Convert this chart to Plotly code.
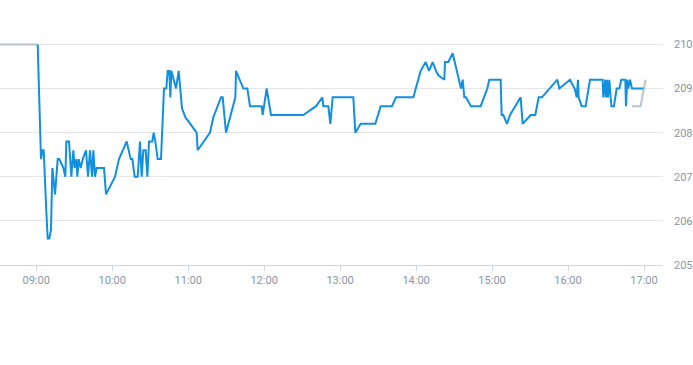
import plotly.graph_objects as go

DAY = "2024-01-02 "

# Pre-session (grey) segment
pre_times = ["08:30:00", "09:01:10"]
pre_prices = [210.0, 210.0]

# Main session (blue)
main_times = [
    "09:01:10", "09:03:47", "09:04:50", "09:05:54", "09:08:00", "09:09:04", "09:10:22", "09:11:41",
    "09:12:44", "09:14:51", "09:16:57", "09:18:16", "09:21:26", "09:23:00", "09:23:48", "09:25:54",
    "09:27:44", "09:29:19", "09:30:23", "09:31:41", "09:32:29", "09:33:32", "09:35:07", "09:36:42",
    "09:39:20", "09:40:54", "09:42:29", "09:44:04", "09:45:07", "09:46:26", "09:47:45", "09:53:32",
    "09:55:07", "10:02:14", "10:05:23", "10:11:26", "10:14:36", "10:15:55", "10:17:46", "10:20:08",
    "10:21:58", "10:23:17", "10:24:36", "10:26:27", "10:27:46", "10:29:05", "10:31:43", "10:32:46",
    "10:34:05", "10:35:56", "10:38:33", "10:40:55", "10:42:46", "10:43:49", "10:45:08", "10:45:55",
    "10:46:43", "10:50:24", "10:52:31", "10:55:08", "10:57:46", "11:06:43", "11:07:31", "11:17:15",
    "11:19:53", "11:25:56", "11:27:15", "11:29:53", "11:37:16", "11:37:48", "11:43:34", "11:46:44",
    "11:48:50", "11:58:03", "11:58:50", "12:02:00", "12:05:25", "12:30:57", "12:40:58", "12:45:58",
    "12:46:45", "12:50:42", "12:52:17", "12:54:07", "13:10:26", "13:12:01", "13:16:14", "13:27:49",
    "13:32:02", "13:40:59", "13:44:08", "13:57:50", "14:03:37", "14:07:34", "14:10:12", "14:13:06",
    "14:15:43", "14:17:34", "14:22:18", "14:22:50", "14:25:28", "14:28:53", "14:35:28", "14:36:47",
    "14:38:05", "14:39:24", "14:43:21", "14:50:59", "14:56:15", "14:57:50", "15:06:47", "15:07:34",
    "15:08:53", "15:11:47", "15:14:10", "15:22:35", "15:24:10", "15:30:29", "15:34:10", "15:36:48",
    "15:39:26", "15:51:32", "15:53:07", "16:01:32", "16:05:14", "16:06:49", "16:07:52", "16:08:23",
    "16:10:45", "16:13:55", "16:17:20", "16:27:20", "16:27:52", "16:29:26", "16:29:58", "16:30:46",
    "16:31:33", "16:32:36", "16:34:11", "16:36:17", "16:38:24", "16:40:30", "16:42:05", "16:45:14",
    "16:45:46", "16:46:49", "16:47:37", "16:48:56", "16:50:31", "16:59:28",
]
main_prices = [
    210.0, 207.4, 207.6, 207.6, 206.2, 205.6, 205.6, 205.8,
    207.2, 206.6, 207.4, 207.4, 207.2, 207.0, 207.8, 207.8,
    207.0, 207.6, 207.2, 207.4, 207.0, 207.4, 207.2, 207.4,
    207.6, 207.0, 207.6, 207.0, 207.6, 207.0, 207.2, 207.2,
    206.6, 207.0, 207.4, 207.8, 207.4, 207.4, 207.0, 207.0,
    207.8, 207.0, 207.6, 207.6, 207.0, 207.8, 207.8, 208.0,
    207.8, 207.4, 207.4, 209.0, 209.0, 209.4, 209.4, 208.8,
    209.4, 209.0, 209.4, 208.55, 208.35, 208.0, 207.6, 208.0,
    208.35, 208.8, 208.8, 208.0, 208.8, 209.4, 209.0, 209.0,
    208.6, 208.6, 208.4, 209.0, 208.4, 208.4, 208.6, 208.8,
    208.6, 208.6, 208.2, 208.8, 208.8, 208.0, 208.2, 208.2,
    208.6, 208.6, 208.8, 208.8, 209.4, 209.6, 209.4, 209.6,
    209.4, 209.3, 209.2, 209.6, 209.6, 209.8, 209.0, 209.2,
    208.8, 208.8, 208.6, 208.6, 209.0, 209.2, 209.2, 208.4,
    208.4, 208.2, 208.4, 208.8, 208.2, 208.4, 208.4, 208.8,
    208.8, 209.2, 209.0, 209.2, 209.0, 208.8, 209.2, 208.8,
    208.6, 208.6, 209.2, 209.2, 208.8, 209.2, 208.8, 209.2,
    208.8, 209.2, 208.6, 208.6, 209.0, 209.0, 209.2, 209.2,
    208.6, 209.2, 209.0, 209.2, 209.0, 209.0,
]

# Post-session (grey) segment
post_times = ["16:50:31", "16:57:18", "17:01:12"]
post_prices = [208.6, 208.6, 209.2]

y_ticks = [205, 206, 207, 208, 209, 210]
y_labels = ["205", "206", "207", "208", "209", "210"]
x_tick_times = ["09:00", "10:00", "11:00", "12:00", "13:00", "14:00", "15:00", "16:00", "17:00"]

BLUE = "#1190e0"
GREY = "#b9c4ce"
TICK_FONT = dict(family="Roboto, 'Liberation Sans', sans-serif", size=11, color="#8896a4")

fig = go.Figure()
fig.add_trace(go.Scatter(x=[DAY + t for t in pre_times], y=pre_prices, mode="lines",
                         line=dict(color=GREY, width=2), hoverinfo="skip", showlegend=False))
fig.add_trace(go.Scatter(x=[DAY + t for t in post_times], y=post_prices, mode="lines",
                         line=dict(color=GREY, width=2), hoverinfo="skip", showlegend=False))
fig.add_trace(go.Scatter(x=[DAY + t for t in main_times], y=main_prices, mode="lines",
                         line=dict(color=BLUE, width=2), showlegend=False))

fig.update_layout(
    template="none",
    width=693, height=365,
    margin=dict(l=0, r=30, t=40, b=100),
    paper_bgcolor="white", plot_bgcolor="white",
    showlegend=False,
    xaxis=dict(
        type="date",
        range=[DAY + "08:31:24", DAY + "17:15:00"],
        tickvals=[DAY + t for t in x_tick_times],
        ticktext=x_tick_times,
        showgrid=False, zeroline=False,
        showline=True, linecolor="#ccd6e0", linewidth=1,
        ticks="outside", ticklen=5, tickcolor="#ccd6e0", tickwidth=1,
        tickfont=TICK_FONT, automargin=False,
    ),
    yaxis=dict(
        side="right",
        range=[205, 210.1],
        tickvals=y_ticks, ticktext=y_labels,
        showgrid=True, gridcolor="#e6e6e6", gridwidth=1,
        zeroline=False, showline=False, ticks="",
        ticklabelstandoff=10,
        tickfont=TICK_FONT, automargin=False,
    ),
)

fig.write_html("out.html", config={"displayModeBar": False})

# remove the browser's default body margin so the figure sits at the page origin
with open("out.html", "r", encoding="utf-8") as f:
    html = f.read()
html = html.replace("<head>", "<head><style>html,body{margin:0;padding:0;overflow:hidden;}</style>", 1)
with open("out.html", "w", encoding="utf-8") as f:
    f.write(html)
